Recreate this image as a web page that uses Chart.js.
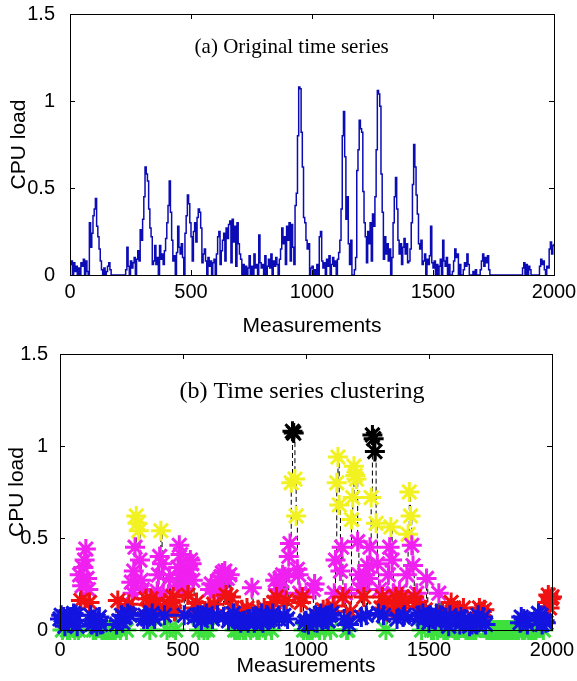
<!DOCTYPE html>
<html>
<head>
<meta charset="utf-8">
<script src="https://cdn.jsdelivr.net/npm/chart.js@4.4.0/dist/chart.umd.min.js"></script>
<style>
  html, body { margin: 0; padding: 0; background: #fff; }
  #wrap { position: relative; width: 577px; height: 681px; }
  canvas { position: absolute; left: 0; }
  #top-chart { top: 0; }
  #bottom-chart { top: 340px; }
</style>
</head>
<body>
<div id="wrap">
  <canvas id="top-chart" width="577" height="340"></canvas>
  <canvas id="bottom-chart" width="577" height="341"></canvas>
</div>
<script>
const sampleStep = 5;
const cpuLoad = [
  0.06, 0.08, 0.00, 0.07, 0.02, 0.05, 0.00, 0.04, 0.00, 0.07, 0.05, 0.09, 0.00, 0.08, 0.02, 0.00, 0.30, 0.16, 0.24, 0.34,
  0.38, 0.44, 0.28, 0.22, 0.15, 0.08, 0.03, 0.00, 0.04, 0.00, 0.02, 0.05, 0.07, 0.03, 0.00, 0.00, 0.00, 0.00, 0.00, 0.00,
  0.00, 0.00, 0.00, 0.00, 0.00, 0.00, 0.03, 0.16, 0.05, 0.00, 0.08, 0.04, 0.07, 0.10, 0.00, 0.09, 0.14, 0.08, 0.26, 0.20,
  0.32, 0.45, 0.62, 0.58, 0.54, 0.38, 0.27, 0.22, 0.06, 0.08, 0.17, 0.06, 0.10, 0.00, 0.17, 0.09, 0.12, 0.06, 0.14, 0.21,
  0.30, 0.40, 0.54, 0.36, 0.20, 0.08, 0.11, 0.00, 0.13, 0.28, 0.16, 0.12, 0.18, 0.10, 0.00, 0.24, 0.34, 0.46, 0.41, 0.30,
  0.22, 0.08, 0.25, 0.30, 0.19, 0.33, 0.38, 0.36, 0.27, 0.07, 0.12, 0.15, 0.08, 0.00, 0.10, 0.05, 0.08, 0.00, 0.07, 0.09,
  0.00, 0.12, 0.22, 0.25, 0.06, 0.14, 0.20, 0.24, 0.08, 0.27, 0.21, 0.29, 0.31, 0.07, 0.32, 0.19, 0.28, 0.05, 0.30, 0.18,
  0.12, 0.09, 0.00, 0.06, 0.00, 0.05, 0.00, 0.04, 0.11, 0.00, 0.05, 0.00, 0.12, 0.04, 0.06, 0.00, 0.23, 0.07, 0.04, 0.06,
  0.00, 0.11, 0.00, 0.05, 0.09, 0.04, 0.12, 0.00, 0.08, 0.05, 0.10, 0.06, 0.00, 0.09, 0.15, 0.27, 0.18, 0.22, 0.06, 0.28,
  0.20, 0.30, 0.08, 0.29, 0.16, 0.06, 0.40, 0.47, 0.80, 1.08, 1.07, 0.82, 0.62, 0.33, 0.30, 0.20, 0.15, 0.18, 0.00, 0.04,
  0.05, 0.00, 0.03, 0.00, 0.06, 0.00, 0.22, 0.25, 0.08, 0.04, 0.07, 0.00, 0.09, 0.05, 0.11, 0.00, 0.06, 0.10, 0.05, 0.08,
  0.00, 0.09, 0.13, 0.20, 0.38, 0.80, 0.94, 0.68, 0.32, 0.45, 0.18, 0.06, 0.20, 0.00, 0.00, 0.03, 0.10, 0.60, 0.72, 0.89,
  0.84, 0.82, 0.48, 0.30, 0.22, 0.07, 0.25, 0.18, 0.30, 0.08, 0.35, 0.28, 0.45, 0.72, 1.06, 1.04, 0.97, 0.58, 0.36, 0.09,
  0.22, 0.12, 0.18, 0.08, 0.15, 0.00, 0.10, 0.30, 0.45, 0.56, 0.38, 0.20, 0.12, 0.18, 0.06, 0.16, 0.21, 0.12, 0.18, 0.07,
  0.08, 0.15, 0.30, 0.52, 0.75, 0.62, 0.46, 0.35, 0.18, 0.15, 0.20, 0.06, 0.08, 0.12, 0.00, 0.09, 0.06, 0.11, 0.28, 0.07,
  0.04, 0.08, 0.00, 0.06, 0.00, 0.05, 0.09, 0.00, 0.20, 0.08, 0.05, 0.10, 0.00, 0.06, 0.00, 0.00, 0.02, 0.08, 0.15, 0.10,
  0.12, 0.00, 0.06, 0.00, 0.00, 0.03, 0.07, 0.05, 0.12, 0.06, 0.00, 0.00, 0.00, 0.02, 0.00, 0.03, 0.00, 0.00, 0.00, 0.03,
  0.08, 0.12, 0.05, 0.10, 0.07, 0.11, 0.03, 0.00, 0.00, 0.00, 0.00, 0.00, 0.00, 0.00, 0.00, 0.00, 0.00, 0.00, 0.00, 0.00,
  0.00, 0.00, 0.00, 0.00, 0.00, 0.00, 0.00, 0.00, 0.00, 0.00, 0.00, 0.00, 0.00, 0.00, 0.04, 0.07, 0.00, 0.06, 0.00, 0.05,
  0.03, 0.00, 0.00, 0.00, 0.00, 0.00, 0.00, 0.00, 0.05, 0.09, 0.06, 0.08, 0.03, 0.00, 0.05, 0.04, 0.15, 0.19, 0.12, 0.17,
  0.18
];

const xTicks = [0, 500, 1000, 1500, 2000];
const yTicks = [0, 0.5, 1, 1.5];

// cluster boundaries on CPU load: zero, low, light, medium, high, peak
const clusterEdges = [0.01, 0.1, 0.2, 0.5, 0.955];
const clusterColors = ["#3ee03e", "#1414e0", "#f01212", "#f020f0", "#f2f222", "#000000"];
const clusterOrder = [6, 2, 3, 4, 5, 1];

Chart.defaults.font.family = '"Liberation Sans", Arial, sans-serif';
Chart.defaults.color = "#000";

const series = cpuLoad.map((v, i) => ({ x: i * sampleStep, y: v }));

function clusterOf(v) {
  let k = 0;
  while (k < clusterEdges.length && v >= clusterEdges[k]) k++;
  return k;
}

// MATLAB-like box with inward ticks plus a caption placed in data coords
const boxPlugin = {
  id: "box",
  afterDatasetsDraw(chart, args, opts) {
    const { ctx, chartArea: a, scales: { x, y } } = chart;
    ctx.save();
    ctx.strokeStyle = "#000";
    ctx.lineWidth = 1;
    ctx.strokeRect(Math.round(a.left) + 0.5, Math.round(a.top) + 0.5,
      Math.round(a.right - a.left), Math.round(a.bottom - a.top));
    ctx.beginPath();
    xTicks.forEach(v => {
      const px = Math.round(x.getPixelForValue(v)) + 0.5;
      ctx.moveTo(px, a.bottom); ctx.lineTo(px, a.bottom - 5);
      ctx.moveTo(px, a.top); ctx.lineTo(px, a.top + 5);
    });
    yTicks.forEach(v => {
      const py = Math.round(y.getPixelForValue(v)) + 0.5;
      ctx.moveTo(a.left, py); ctx.lineTo(a.left + 5, py);
      ctx.moveTo(a.right, py); ctx.lineTo(a.right - 5, py);
    });
    ctx.stroke();
    if (opts.text) {
      ctx.fillStyle = "#000";
      ctx.font = opts.font;
      ctx.textAlign = "center";
      ctx.textBaseline = "middle";
      ctx.fillText(opts.text, x.getPixelForValue(opts.atX), y.getPixelForValue(opts.atY));
    }
    ctx.restore();
  }
};

// fixed scale boxes so the plot area lands where the original has it
function noPadding(s) {
  s.paddingTop = 0; s.paddingBottom = 0; s.paddingLeft = 0; s.paddingRight = 0;
}

function makeScales(yWidth, xHeight, yPad, xPad, yTitlePad, xTitlePad) {
  return {
    x: {
      type: "linear", min: 0, max: 2000,
      afterBuildTicks: s => { s.ticks = xTicks.map(v => ({ value: v })); },
      afterFit: s => { s.height = xHeight; noPadding(s); },
      grid: { display: false, drawTicks: false },
      border: { display: false },
      ticks: { padding: xPad, font: { size: 20 }, maxRotation: 0, autoSkip: false, callback: v => String(v) },
      title: { display: true, text: "Measurements", font: { size: 21 }, padding: { top: 0, bottom: xTitlePad } }
    },
    y: {
      type: "linear", min: 0, max: 1.5,
      afterBuildTicks: s => { s.ticks = yTicks.map(v => ({ value: v })); },
      afterFit: s => { s.width = yWidth; noPadding(s); },
      grid: { display: false, drawTicks: false },
      border: { display: false },
      ticks: { padding: yPad, font: { size: 20 }, callback: v => String(v) },
      title: { display: true, text: "CPU load", font: { size: 21 }, padding: { top: yTitlePad, bottom: 0 } }
    }
  };
}

// (a) original series
new Chart(document.getElementById("top-chart"), {
  type: "line",
  data: {
    datasets: [{
      data: series,
      borderColor: "#0c0cb4",
      borderWidth: 1.5,
      pointRadius: 0,
      stepped: true,
      fill: false
    }]
  },
  options: {
    responsive: false,
    animation: false,
    events: [],
    layout: { padding: { left: 0, right: 23, top: 14, bottom: 0 } },
    scales: makeScales(70, 65, 15, 5, 7, 1),
    plugins: {
      legend: { display: false },
      tooltip: { enabled: false },
      box: { text: "(a) Original time series", font: '21px "Liberation Serif", "Times New Roman", serif', atX: 916, atY: 1.31 }
    }
  },
  plugins: [boxPlugin]
});

// (b) clustered series
const clusterSets = clusterColors.map((color, k) => ({
  data: series.filter(p => clusterOf(p.y) === k),
  showLine: false,
  pointStyle: "star",
  pointRadius: 10,
  pointBorderColor: color,
  pointBackgroundColor: color,
  pointBorderWidth: 3,
  clip: false,
  order: clusterOrder[k]
}));

new Chart(document.getElementById("bottom-chart"), {
  type: "line",
  data: {
    datasets: [{
      data: series,
      borderColor: "#000",
      borderWidth: 1,
      borderDash: [5, 3],
      pointRadius: 0,
      stepped: true,
      fill: false,
      order: 10
    }].concat(clusterSets)
  },
  options: {
    responsive: false,
    animation: false,
    events: [],
    layout: { padding: { left: 0, right: 25, top: 14, bottom: 0 } },
    scales: makeScales(60, 51, 12, 8, 5, 2),
    plugins: {
      legend: { display: false },
      tooltip: { enabled: false },
      box: { text: "(b) Time series clustering", font: '24px "Liberation Serif", "Times New Roman", serif', atX: 984, atY: 1.294 }
    }
  },
  plugins: [boxPlugin]
});
</script>
</body>
</html>
